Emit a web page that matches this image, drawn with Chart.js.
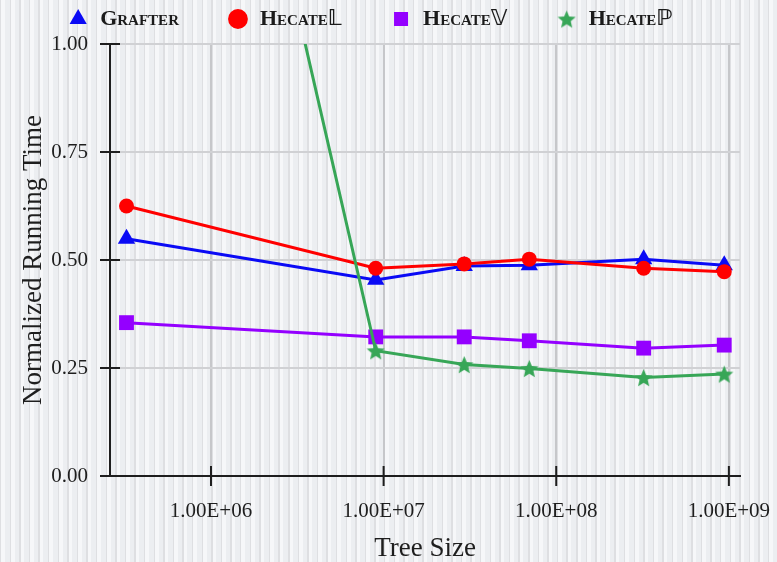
<!DOCTYPE html>
<html lang="en">
<head>
    <meta charset="UTF-8">
    <title>Normalized Running Time vs Tree Size</title>
    <script src="https://cdn.jsdelivr.net/npm/chart.js"></script>
    <style>
        html, body { margin: 0; padding: 0; }
        body {
            width: 777px; height: 562px; overflow: hidden;
            background-color: #eff0f2;
            background-image: repeating-linear-gradient(90deg,
                #dedfe2 0px, #dedfe2 1.5px,
                #f6f7f9 1.5px, #f6f7f9 5px,
                #eceef1 5px, #eceef1 9.6px);
        }
        .box { position: relative; width: 777px; height: 562px; }
    </style>
</head>
<body>
<div class="box">
    <canvas id="chartTempo" width="777" height="562"></canvas>
</div>

<script>
    // valores (eixo x em escala log)
    const treeSizes = [3.24e5, 9.0e6, 2.93e7, 6.98e7, 3.21e8, 9.4e8];
    const grafter = [0.549, 0.454, 0.486, 0.488, 0.502, 0.488];
    const hecateL = [0.625, 0.481, 0.491, 0.502, 0.481, 0.473];
    const hecateV = [0.355, 0.322, 0.322, 0.313, 0.296, 0.303];
    const hecateP = [2.80, 0.290, 0.258, 0.249, 0.228, 0.236];
    const xTicks = [1e6, 1e7, 1e8, 1e9];
    const yTicks = [0, 0.25, 0.5, 0.75, 1];

    const serif = "'Liberation Serif', 'DejaVu Serif', 'DejaVu Sans', serif";

    function pontos(valores) {
        return treeSizes.map((t, i) => ({ x: t, y: valores[i] }));
    }

    // estrela cheia (o 'star' do chart.js é só traço)
    function estrela(cor, tam) {
        const c = document.createElement('canvas');
        c.width = tam; c.height = tam;
        const g = c.getContext('2d');
        const r1 = tam / 2, r2 = r1 * 0.45, cx = tam / 2, cy = tam / 2 + tam * 0.05;
        g.beginPath();
        for (let i = 0; i < 10; i++) {
            const r = i % 2 ? r2 : r1;
            const a = -Math.PI / 2 + i * Math.PI / 5;
            g.lineTo(cx + r * Math.cos(a), cy + r * Math.sin(a));
        }
        g.closePath();
        g.fillStyle = cor;
        g.fill();
        return c;
    }

    // marcas que cruzam os eixos
    const marcasEixos = {
        id: 'marcasEixos',
        afterDraw(chart) {
            const { ctx, chartArea, scales } = chart;
            ctx.save();
            ctx.strokeStyle = '#1e1e1e';
            ctx.lineWidth = 2;
            ctx.beginPath();
            yTicks.forEach(v => {
                const y = scales.y.getPixelForValue(v);
                ctx.moveTo(chartArea.left - 10, y);
                ctx.lineTo(chartArea.left + 10, y);
            });
            xTicks.forEach(v => {
                const x = scales.x.getPixelForValue(v);
                ctx.moveTo(x, chartArea.bottom - 10);
                ctx.lineTo(x, chartArea.bottom + 10);
            });
            ctx.stroke();
            ctx.restore();
        }
    };

    const verde = '#37a657';

    const ctx = document.getElementById('chartTempo').getContext('2d');
    const chartTempo = new Chart(ctx, {
        type: 'line',
        data: {
            datasets: [
                {
                    label: 'Grafter',
                    data: pontos(grafter),
                    borderColor: '#0a0af5', backgroundColor: '#0a0af5',
                    pointStyle: 'triangle', pointRadius: 10,
                    order: 4
                },
                {
                    label: 'Hecate\u{1D543}',
                    data: pontos(hecateL),
                    borderColor: '#ff0000', backgroundColor: '#ff0000',
                    pointStyle: 'circle', pointRadius: 7.5,
                    order: 3
                },
                {
                    label: 'Hecate\u{1D54D}',
                    data: pontos(hecateV),
                    borderColor: '#9400ff', backgroundColor: '#9400ff',
                    pointStyle: 'rect', pointRadius: 10.5,
                    order: 2
                },
                {
                    label: 'Hecate\u2119',
                    data: pontos(hecateP),
                    borderColor: verde, backgroundColor: verde,
                    pointStyle: estrela(verde, 19),
                    order: 1
                }
            ]
        },
        options: {
            responsive: false,
            animation: false,
            devicePixelRatio: 1,
            // topo negativo: o padding da legenda (48) é também o espaço entre itens
            layout: { padding: { top: -40, right: 37 } },
            elements: {
                line: { borderWidth: 3, tension: 0 },
                point: { borderWidth: 0, hoverRadius: 10 }
            },
            datasets: { line: { clip: 0 } },
            plugins: {
                legend: {
                    position: 'top',
                    labels: {
                        usePointStyle: true,
                        boxHeight: 14,
                        boxWidth: 22,
                        padding: 48,
                        color: '#1b1b1b',
                        font: { family: serif, size: 22, weight: 'small-caps bold' },
                        sort: (a, b) => a.datasetIndex - b.datasetIndex,
                        generateLabels(chart) {
                            return Chart.defaults.plugins.legend.labels.generateLabels(chart)
                                .map(item => ({ ...item, lineWidth: 0 }));
                        }
                    }
                },
                // espaçador entre legenda e área do gráfico
                title: {
                    display: true, text: '', weight: 500,
                    font: { size: 1, lineHeight: 1 },
                    padding: { top: 0, bottom: 3 }
                },
                tooltip: { enabled: false }
            },
            scales: {
                x: {
                    type: 'logarithmic',
                    min: 2.6e5,
                    max: 1.16e9,
                    afterFit(scale) {
                        scale.height = 86;
                        scale.paddingLeft = 0;
                        scale.paddingRight = 0;
                    },
                    afterBuildTicks(scale) { scale.ticks = xTicks.map(v => ({ value: v })); },
                    ticks: {
                        color: '#1e1e1e',
                        padding: 23,
                        maxRotation: 0,
                        autoSkip: false,
                        font: { family: serif, size: 21 },
                        callback(v) {
                            const e = Math.round(Math.log10(v));
                            return (v / Math.pow(10, e)).toFixed(2) + 'E+' + String(e).padStart(2, '0');
                        }
                    },
                    grid: { color: '#c6c7ca', lineWidth: 2, drawTicks: false },
                    border: { color: '#1e1e1e', width: 2 },
                    title: {
                        display: true, text: 'Tree Size', color: '#1e1e1e',
                        font: { family: serif, size: 27, lineHeight: 1 },
                        padding: { top: 0, bottom: 0 }
                    }
                },
                y: {
                    min: 0,
                    max: 1,
                    afterFit(scale) { scale.width = 110; },
                    afterBuildTicks(scale) { scale.ticks = yTicks.map(v => ({ value: v })); },
                    ticks: {
                        color: '#1e1e1e',
                        padding: 22,
                        font: { family: serif, size: 21 },
                        callback: v => v.toFixed(2)
                    },
                    grid: { color: '#d0d1d4', lineWidth: 2, drawTicks: false },
                    border: { color: '#1e1e1e', width: 2 },
                    title: {
                        display: true, text: 'Normalized Running Time', color: '#1e1e1e',
                        font: { family: serif, size: 27, lineHeight: 1 },
                        padding: { top: 20, bottom: 0 }
                    }
                }
            }
        },
        plugins: [marcasEixos]
    });
</script>
</body>
</html>
